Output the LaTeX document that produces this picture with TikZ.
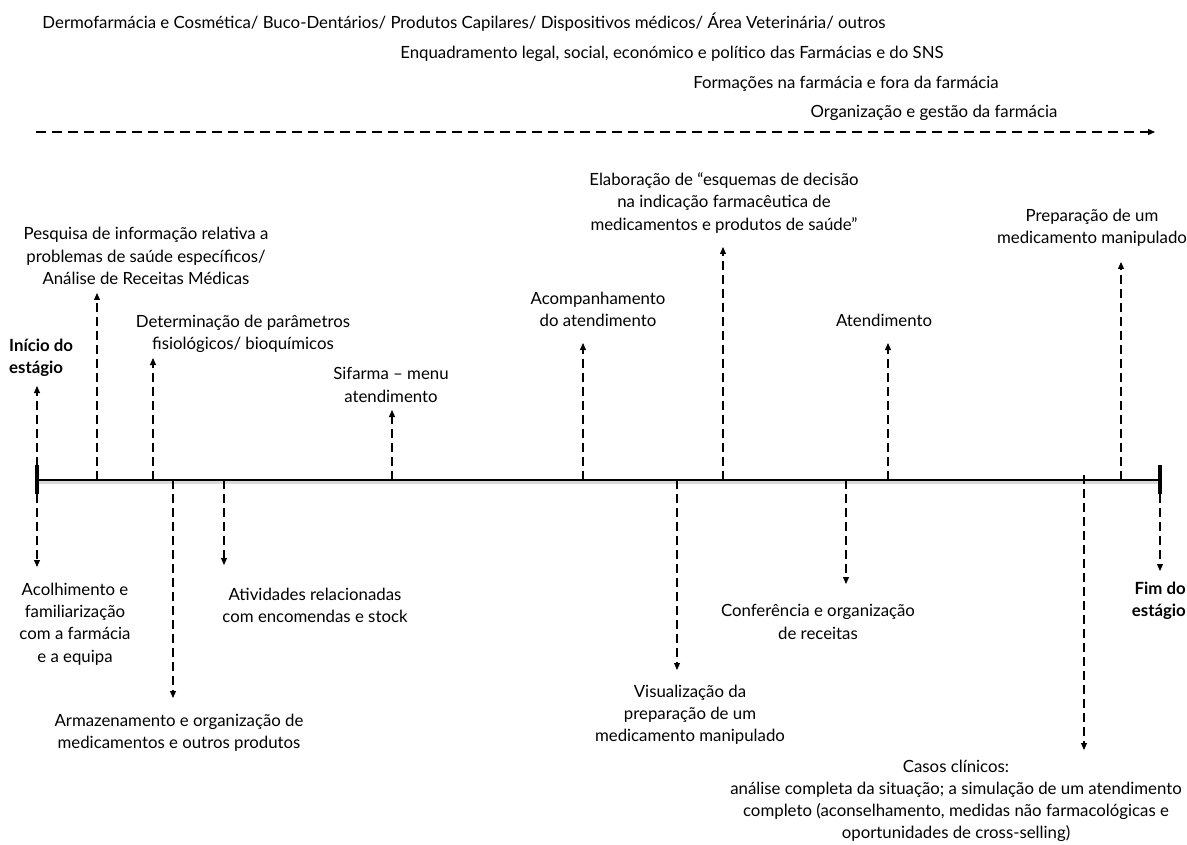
\documentclass[tikz,border=0pt]{standalone}
\usepackage{fontspec}
\setmainfont{Lato}
\usepackage{tikz}
\usetikzlibrary{arrows.meta}
\tikzset{
  lbl/.style={align=center, inner sep=0pt, font=\fontsize{16.8}{22.2}\selectfont},
  blbl/.style={lbl, font=\fontsize{16.8}{22.2}\selectfont\bfseries},
  darr/.style={-{Triangle[length=7pt,width=6pt]}, line width=1.1pt, dash pattern=on 9pt off 5pt},
  tline/.style={line width=2.6pt},
  tick/.style={line width=3.5pt},
}

\begin{document}
\begin{tikzpicture}[x=1pt, y=-1pt]
  \useasboundingbox (0,0) rectangle (1187,845);

  % themes along the whole stage
  \node[lbl] (dermo) at (464,22) {Dermofarmácia e Cosmética/ Buco-Dentários/ Produtos Capilares/ Dispositivos médicos/ Área Veterinária/ outros};
  \node[lbl] (enq) at (672,54) {Enquadramento legal, social, económico e político das Farmácias e do SNS};
  \node[lbl] (form) at (846,84) {Formações na farmácia e fora da farmácia};
  \node[lbl] (org) at (934,113) {Organização e gestão da farmácia};
  \coordinate (dA) at (36,132);
  \coordinate (dB) at (1155,132);
  \draw[darr, dash pattern=on 10pt off 6pt] (dA) -- (dB);

  % timeline
  \coordinate (tl) at (37,480);
  \coordinate (tr) at (1160,480);
  \draw[gray!30, line width=3pt] ([yshift=-2.5pt]tl) -- ([yshift=-2.5pt]tr);
  \draw[tline] (tl) -- (tr);
  \draw[tick] ([yshift=15pt]tl) -- ([yshift=-14pt]tl);
  \draw[tick] ([yshift=15pt]tr) -- ([yshift=-14pt]tr);

  % above the line
  \node[blbl, anchor=west, align=left] (ini) at (9,358) {Início do\\estágio};
  \node[lbl] (pesq) at (146,256) {Pesquisa de informação relativa a\\problemas de saúde específicos/\\Análise de Receitas Médicas};
  \node[lbl] (determ) at (243,334) {Determinação de parâmetros\\fisiológicos/ bioquímicos};
  \node[lbl] (sif) at (391,385) {Sifarma -- menu\\atendimento};
  \node[lbl] (acomp) at (598,309) {Acompanhamento\\do atendimento};
  \node[lbl] (elab) at (724,203) {Elaboração de ``esquemas de decisão\\na indicação farmacêutica de\\medicamentos e produtos de saúde''};
  \node[lbl] (atend) at (884,320) {Atendimento};
  \node[lbl] (prep) at (1092,228) {Preparação de um\\medicamento manipulado};

  \coordinate (uIni) at (37,386);
  \coordinate (uPesq) at (97,293);
  \coordinate (uDeterm) at (153,358);
  \coordinate (uSif) at (392,410);
  \coordinate (uAcomp) at (583,343);
  \coordinate (uElab) at (723,247);
  \coordinate (uAtend) at (888,343);
  \coordinate (uPrep) at (1121,262);

  \draw[darr] (uIni |- tl) -- (uIni);
  \draw[darr] (uPesq |- tl) -- (uPesq);
  \draw[darr] (uDeterm |- tl) -- (uDeterm);
  \draw[darr] (uSif |- tl) -- (uSif);
  \draw[darr] (uAcomp |- tl) -- (uAcomp);
  \draw[darr] (uElab |- tl) -- (uElab);
  \draw[darr] (uAtend |- tl) -- (uAtend);
  \draw[darr] (uPrep |- tl) -- (uPrep);

  % below the line
  \node[lbl] (acol) at (75,624) {Acolhimento e\\familiarização\\com a farmácia\\e a equipa};
  \node[lbl] (armaz) at (179,733) {Armazenamento e organização de\\medicamentos e outros produtos};
  \node[lbl] (ativ) at (315,605) {Atividades relacionadas\\com encomendas e stock};
  \node[lbl] (visual) at (690,715) {Visualização da\\preparação de um\\medicamento manipulado};
  \node[lbl] (confer) at (818,622) {Conferência e organização\\de receitas};
  \node[lbl] (casos) at (956,801) {Casos clínicos:\\análise completa da situação; a simulação de um atendimento\\completo (aconselhamento, medidas não farmacológicas e\\oportunidades de cross-selling)};
  \node[blbl, anchor=east, align=right] (fim) at (1186,601) {Fim do\\estágio};

  \coordinate (dAcol) at (37,567);
  \coordinate (dArmaz) at (173,698);
  \coordinate (dAtiv) at (224,565);
  \coordinate (dVisual) at (677,670);
  \coordinate (dConfer) at (846,584);
  \coordinate (dCasos) at (1084,750);
  \coordinate (dFim) at (1160,571);

  \draw[darr] (dAcol |- tl) -- (dAcol);
  \draw[darr] (dArmaz |- tl) -- (dArmaz);
  \draw[darr] (dAtiv |- tl) -- (dAtiv);
  \draw[darr] (dVisual |- tl) -- (dVisual);
  \draw[darr] (dConfer |- tl) -- (dConfer);
  \draw[darr] ([yshift=5pt]dCasos |- tl) -- (dCasos);
  \draw[darr] (dFim |- tl) -- (dFim);
\end{tikzpicture}
\end{document}
